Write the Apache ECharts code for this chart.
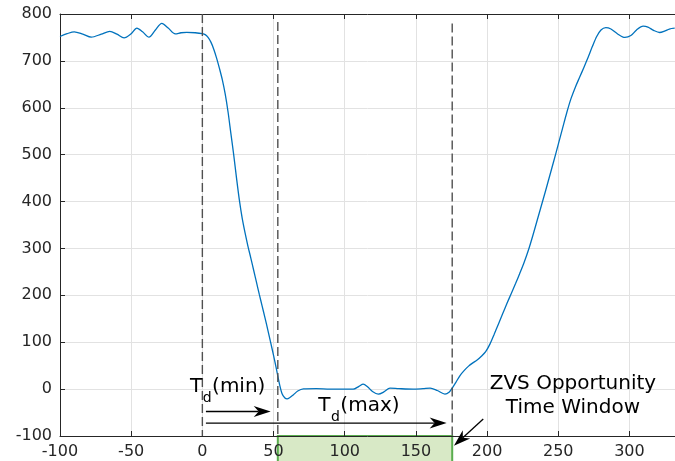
<!DOCTYPE html>
<html>
<head>
<meta charset="utf-8">
<script src="https://cdn.jsdelivr.net/npm/echarts@6/dist/echarts.min.js"></script>
<style>
html,body{margin:0;padding:0;background:#ffffff;}
#chart{width:675px;height:461px;}
</style>
</head>
<body>
<div id="chart"></div>
<script>
// ---- data ----
const timeNs = [-100,-95,-90,-84,-78,-71,-65,-60,-55,-50,-46,-42,-37.5,-33,-28.5,-24,-19,-15,-11,-5,
  0,2,4,6,8,10,12,14,16,18,20,22,24,26,28,30,32,34,36,38,40,42,44,46,48,50,52,54,56,58,59.5,61.5,64,67,71,
  80,89.6,100,106,110,113,116,119.5,123.6,127.5,131.8,138,148,155,160,165,170.4,173.5,
  175.5,178,181,184,187,190,193,196,199,202,205,208,211,214,217,220,223,226,229,232,235,238,241,244,247,250,253,256,259,262,265,268,271,274,277,280,
  283.4,287,291.5,296.8,301,305,309.6,313,317,321.2,325,328,331.8];
const voltage = [752,758,762,757,750.5,757,763,757,749,758,770,762,750.5,766,780,770,757.5,760,761,760,
  758,756,750,740,725,706,684,660,630,592,546,500,450,403,364,333,305,280,254,228,202,177,152,126,99,72,43,13,-10,-19,-21,-18,-12,-4,0.5,
  1,0,0,0,6,10.6,5,-5,-10.6,-6,2,1,0,1,2,-3,-10.6,-6,
  2,14,29,40,49,56,62,70,80,96,117,139,161,183,204,225,247,270,296,326,358,390,422,455,488,522,556,590,620,644,665,686,708,731,752,766,
  771,768,758,750,754,766,774,772,765,760.5,764,768,769.7];

const xTicks = [-100,-50,0,50,100,150,200,250,300];
const yTicks = [-100,0,100,200,300,400,500,600,700,800];
const xMax = 332;

const markerX = [0, 53, 175.5];
const markerTop = [800, 783, 780];
const zvsWindow = [53, 175.5];

const arrowStartX = [2.5, 2.5, 197.3];
const arrowStartY = [-47.7, -72.4, -63.9];
const arrowEndX = [48, 171.6, 176.7];
const arrowEndY = [-47.7, -72.4, -120.8];

const tdMain = ['T', 'T'];
const tdSub = ['d', 'd'];
const tdTail = ['(min)', '(max)'];
const tdX = [-8.7, 81.4];
const tdY = [-10.6, -51.1];

const zvsLines = ['ZVS Opportunity', 'Time Window'];
const zvsX = [260.3, 260.3];
const zvsY = [-3.0, -54.1];

// ---- helpers ----
const FONT = 'DejaVu Sans';
const mctx = document.createElement('canvas').getContext('2d');
function measure(txt, fs) { mctx.font = fs + 'px "' + FONT + '"'; return mctx.measureText(txt).width; }

const axisColor = '#262626';
const gridColor = '#e2e2e2';

const chart = echarts.init(document.getElementById('chart'), null, {renderer: 'canvas'});

const lineData = timeNs.map((t, i) => [t, voltage[i]]);

const option = {
  backgroundColor: '#ffffff',
  animation: false,
  grid: {left: 60, right: 0, top: 14, bottom: 25, containLabel: false},
  xAxis: [{
    type: 'value', min: xTicks[0], max: xMax, interval: xTicks[1] - xTicks[0], position: 'bottom',
    axisLine: {show: true, onZero: false, lineStyle: {color: axisColor, width: 1}},
    axisTick: {show: true, inside: true, length: 5, lineStyle: {color: axisColor, width: 1}},
    axisLabel: {show: true, color: axisColor, fontFamily: FONT, fontSize: 16, margin: 8, showMaxLabel: false,
      formatter: v => (xTicks.indexOf(v) >= 0 ? String(v) : '')},
    splitLine: {show: true, lineStyle: {color: gridColor, width: 1}}
  }, {
    type: 'value', min: xTicks[0], max: xMax, interval: xTicks[1] - xTicks[0], position: 'top',
    axisLine: {show: true, onZero: false, lineStyle: {color: axisColor, width: 1}},
    axisTick: {show: true, inside: true, length: 5, lineStyle: {color: axisColor, width: 1}},
    axisLabel: {show: false},
    splitLine: {show: false}
  }],
  yAxis: {
    type: 'value', min: yTicks[0], max: yTicks[yTicks.length - 1], interval: yTicks[1] - yTicks[0],
    axisLine: {show: true, onZero: false, lineStyle: {color: axisColor, width: 1}},
    axisTick: {show: true, inside: true, length: 5, lineStyle: {color: axisColor, width: 1}},
    axisLabel: {show: true, color: axisColor, fontFamily: FONT, fontSize: 16, margin: 8},
    splitLine: {show: true, lineStyle: {color: gridColor, width: 1}}
  },
  series: [
    {
      type: 'custom', name: 'zvsWindow', z: -1, clip: false, silent: true,
      data: [[zvsWindow[0], yTicks[0], zvsWindow[1]]],
      renderItem: function (params, api) {
        const p1 = api.coord([api.value(0), api.value(1)]);
        const p2 = api.coord([api.value(2), api.value(1)]);
        return {
          type: 'rect',
          shape: {x: p1[0], y: p1[1], width: p2[0] - p1[0], height: api.getHeight() - p1[1] + 6},
          style: {fill: '#d8e9c6', stroke: '#5aad4e', lineWidth: 2}
        };
      }
    },
    {
      type: 'line', name: 'Vds', data: lineData, showSymbol: false, smooth: 0.3, z: 3,
      lineStyle: {color: '#0072BD', width: 1.3}
    },
    {
      type: 'custom', name: 'markers', z: 4, clip: false, silent: true,
      data: markerX.map((x, i) => [x, markerTop[i]]),
      renderItem: function (params, api) {
        const a = api.coord([api.value(0), api.value(1)]);
        const b = api.coord([api.value(0), yTicks[0]]);
        return {
          type: 'line',
          shape: {x1: a[0], y1: a[1], x2: b[0], y2: b[1]},
          style: {stroke: '#505050', lineWidth: 1.4, lineDash: [9, 4]}
        };
      }
    },
    {
      type: 'custom', name: 'arrows', z: 5, clip: false, silent: true,
      data: arrowStartX.map((x, i) => [x, arrowStartY[i], arrowEndX[i], arrowEndY[i]]),
      renderItem: function (params, api) {
        const a = api.coord([api.value(0), api.value(1)]);
        const b = api.coord([api.value(2), api.value(3)]);
        const dx = b[0] - a[0], dy = b[1] - a[1];
        const len = Math.sqrt(dx * dx + dy * dy);
        const ux = dx / len, uy = dy / len, nx = -uy, ny = ux;
        const L = 17, W = 5.5, N = 12;
        const back = [b[0] - N * ux, b[1] - N * uy];
        return {
          type: 'group',
          children: [
            {type: 'line', shape: {x1: a[0], y1: a[1], x2: back[0], y2: back[1]},
              style: {stroke: '#000', lineWidth: 1.3}},
            {type: 'polygon', shape: {points: [
              [b[0], b[1]],
              [b[0] - L * ux + W * nx, b[1] - L * uy + W * ny],
              back,
              [b[0] - L * ux - W * nx, b[1] - L * uy - W * ny]
            ]}, style: {fill: '#000'}}
          ]
        };
      }
    },
    {
      type: 'custom', name: 'tdLabels', z: 6, clip: false, silent: true,
      data: tdX.map((x, i) => [x, tdY[i]]),
      renderItem: function (params, api) {
        const i = params.dataIndex;
        const p = api.coord([api.value(0), api.value(1)]);
        const fs = 20, sfs = 14;
        const wT = measure(tdMain[i], fs), wd = measure(tdSub[i], sfs);
        const midMain = p[1] - 0.35 * fs;
        const midSub = p[1] + 9 - 0.35 * sfs;
        const st = (t, s) => ({text: t, fontFamily: FONT, fontSize: s, fill: '#000', align: 'left', verticalAlign: 'middle'});
        return {
          type: 'group',
          children: [
            {type: 'text', x: p[0], y: midMain, style: st(tdMain[i], fs)},
            {type: 'text', x: p[0] + wT + 0.5, y: midSub, style: st(tdSub[i], sfs)},
            {type: 'text', x: p[0] + wT + wd + 1, y: midMain, style: st(tdTail[i], fs)}
          ]
        };
      }
    },
    {
      type: 'custom', name: 'zvsLabel', z: 6, clip: false, silent: true,
      data: zvsX.map((x, i) => [x, zvsY[i]]),
      renderItem: function (params, api) {
        const i = params.dataIndex;
        const p = api.coord([api.value(0), api.value(1)]);
        const fs = 20;
        return {
          type: 'text', x: p[0], y: p[1] - 0.35 * fs,
          style: {text: zvsLines[i], fontFamily: FONT, fontSize: fs, fill: '#000', align: 'center', verticalAlign: 'middle'}
        };
      }
    }
  ]
};
chart.setOption(option);
</script>
</body>
</html>
